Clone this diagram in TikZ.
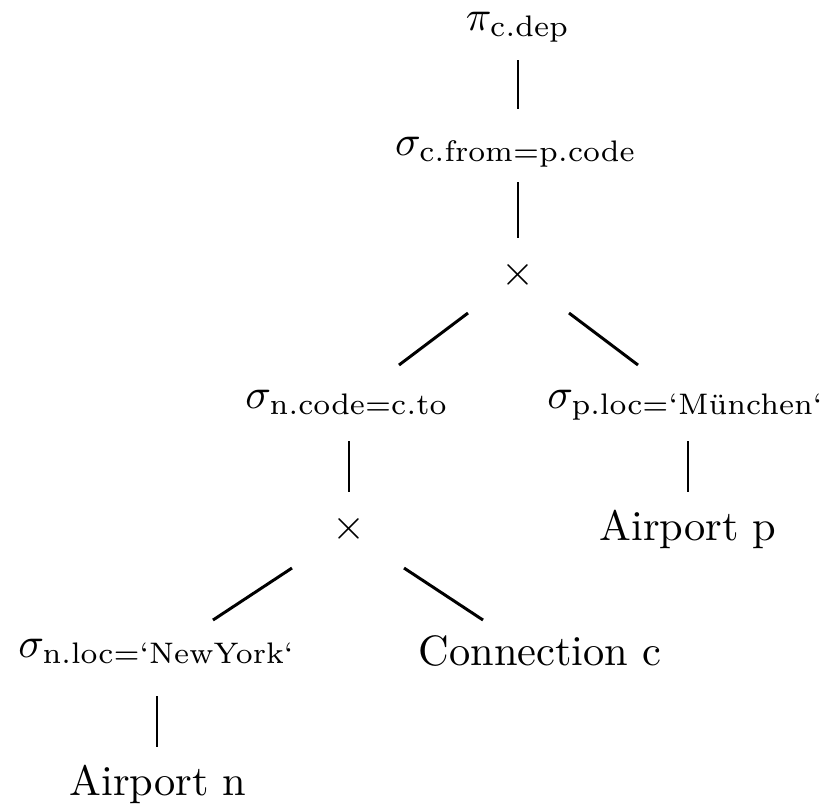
\documentclass[tikz,border=0pt]{standalone}
\usepackage{amsmath}
\begin{document}
\begin{tikzpicture}[
  x=0.2356pt, y=-0.2356pt,
  lbl/.style={anchor=base, inner sep=0pt, outer sep=0pt},
  link/.style={line width=0.7pt, line cap=butt}
]
\useasboundingbox (0,0) rectangle (825,805);

% operator tree
\node[lbl] (pi) at (518,30)  {$\pi_{\mathrm{c.dep}}$};
\node[lbl] (s1) at (516,155) {$\sigma_{\mathrm{c.from=p.code}}$};
\node[lbl] (x1) at (518,285) {$\times$};
\node[lbl] (sn) at (347,408) {$\sigma_{\mathrm{n.code=c.to}}$};
\node[lbl] (sp) at (686,408) {$\sigma_{\text{p.loc=‘München‘}}$};
\node[lbl] (x2) at (349,539) {$\times$};
\node[lbl] (ap) at (688,540) {Airport p};
\node[lbl] (sl) at (157,657) {$\sigma_{\text{n.loc=‘NewYork‘}}$};
\node[lbl] (cc) at (540,665) {Connection c};
\node[lbl] (an) at (158,795) {Airport n};

% connectors
\draw[link] ([shift={(0,30)}]pi.base)   -- ([shift={(2,-46)}]s1.base);
\draw[link] ([shift={(2,27)}]s1.base)   -- ([shift={(0,-47)}]x1.base);
\draw[link] ([shift={(-50,28)}]x1.base) -- ([shift={(52,-43)}]sn.base);
\draw[link] ([shift={(51,28)}]x1.base)  -- ([shift={(-48,-43)}]sp.base);
\draw[link] ([shift={(2,33)}]sn.base)   -- ([shift={(0,-47)}]x2.base);
\draw[link] ([shift={(2,33)}]sp.base)   -- ([shift={(0,-48)}]ap.base);
\draw[link] ([shift={(-57,29)}]x2.base) -- ([shift={(56,-37)}]sl.base);
\draw[link] ([shift={(55,29)}]x2.base)  -- ([shift={(-57,-45)}]cc.base);
\draw[link] ([shift={(0,39)}]sl.base)   -- ([shift={(-1,-48)}]an.base);
\end{tikzpicture}
\end{document}
